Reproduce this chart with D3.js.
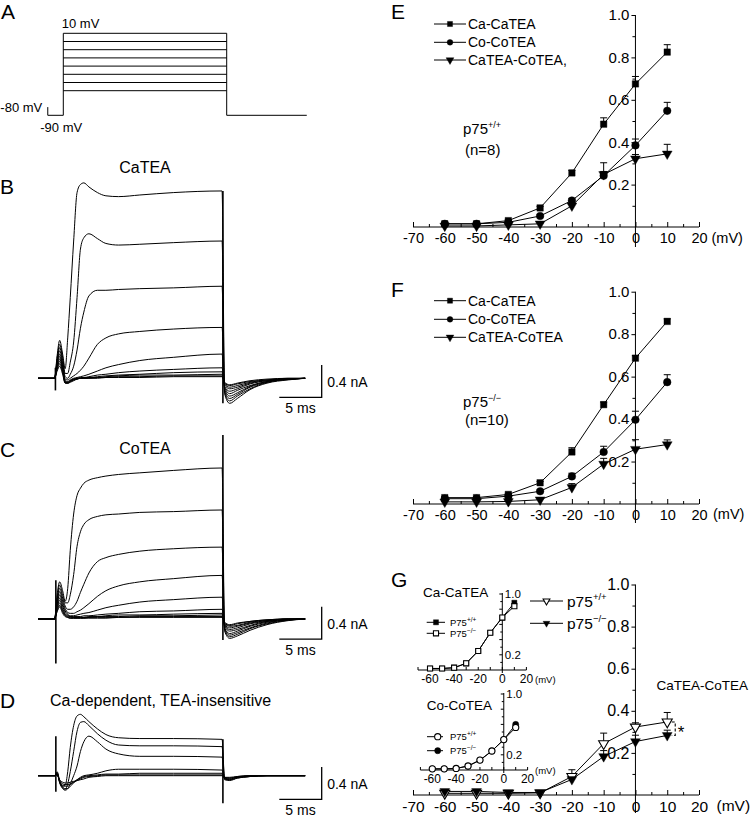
<!DOCTYPE html>
<html>
<head>
<meta charset="utf-8">
<script src="https://cdn.jsdelivr.net/npm/d3@7"></script>
<style>
  body { margin: 0; background: #fff; }
  svg { display: block; }
</style>
</head>
<body>
<svg id="fig" width="750" height="819"></svg>
<script>
// ---------- data ----------
// A: step protocol (mV, ms)
const stepLevels = [10, 0, -10, -20, -30, -40, -50, -60];
const holdingMv = -80;
const prepulseMv = -90;
const protocolTimes = [-1.9, 0, 20, 29.8]; // start, step on, step off, end

// B-D: current traces (nA) sampled at traceTimes (ms)
const traceTimes = [-2, -0.05, 0.25, 0.55, 0.9, 1.2, 1.5, 1.8, 2.2, 2.6, 3.0, 3.4, 4.0, 5.0, 6.0, 7.5, 10, 14, 19.7, 20.0, 20.6, 21.5, 23, 25, 27.5, 29.5];

const tracesCaTEA = [
  [0,0,0.28,0.47,0.3,0.12,0.5,1.0,1.7,2.3,2.4,2.42,2.37,2.3,2.26,2.25,2.27,2.3,2.32,-0.19,-0.31,-0.25,-0.14,-0.06,-0.02,0],
  [0,0,0.25,0.42,0.26,0.06,0.06,0.2,0.45,1.0,1.6,1.74,1.79,1.73,1.67,1.65,1.66,1.68,1.7,-0.17,-0.28,-0.22,-0.13,-0.05,-0.015,0],
  [0,0,0.22,0.38,0.22,0.02,0.0,0.05,0.15,0.35,0.62,0.82,1.02,1.09,1.09,1.1,1.11,1.12,1.14,-0.15,-0.25,-0.2,-0.11,-0.05,-0.01,0],
  [0,0,0.2,0.34,0.18,-0.01,-0.02,0.0,0.03,0.06,0.1,0.15,0.25,0.42,0.5,0.55,0.58,0.61,0.63,-0.13,-0.22,-0.18,-0.1,-0.04,-0.01,0],
  [0,0,0.18,0.3,0.15,-0.03,-0.04,-0.02,0.0,0.01,0.02,0.03,0.05,0.09,0.13,0.17,0.22,0.26,0.3,-0.11,-0.19,-0.15,-0.09,-0.04,-0.01,0],
  [0,0,0.16,0.27,0.13,-0.04,-0.05,-0.03,-0.01,0.0,0.01,0.01,0.02,0.04,0.05,0.07,0.09,0.11,0.13,-0.1,-0.16,-0.13,-0.07,-0.03,-0.01,0],
  [0,0,0.14,0.24,0.11,-0.05,-0.05,-0.03,-0.01,0.0,0.0,0.01,0.01,0.02,0.03,0.04,0.05,0.07,0.08,-0.08,-0.13,-0.11,-0.06,-0.03,-0.01,0],
  [0,0,0.12,0.21,0.09,-0.05,-0.06,-0.04,-0.02,-0.01,0.0,0.0,0.01,0.01,0.02,0.03,0.04,0.04,0.05,-0.07,-0.11,-0.09,-0.05,-0.02,-0.01,0],
  [0,0,0.11,0.18,0.07,-0.06,-0.06,-0.04,-0.02,-0.01,0,0,0,0.01,0.01,0.02,0.02,0.03,0.03,-0.06,-0.09,-0.07,-0.04,-0.02,0,0],
  [0,0,0.09,0.15,0.05,-0.06,-0.06,-0.05,-0.03,-0.01,0,0,0,0,0.01,0.01,0.01,0.02,0.02,-0.05,-0.08,-0.06,-0.03,-0.01,0,0]
];
const tracesCoTEA = [
  [0,0,0.3,0.46,0.35,0.22,0.38,0.85,1.3,1.53,1.62,1.68,1.72,1.75,1.77,1.79,1.81,1.84,1.87,-0.15,-0.24,-0.21,-0.14,-0.07,-0.02,0],
  [0,0,0.26,0.42,0.3,0.2,0.2,0.3,0.55,0.9,1.08,1.17,1.23,1.27,1.29,1.3,1.32,1.33,1.35,-0.13,-0.22,-0.19,-0.12,-0.06,-0.015,0],
  [0,0,0.23,0.38,0.26,0.16,0.12,0.12,0.15,0.22,0.33,0.43,0.57,0.71,0.76,0.8,0.84,0.87,0.89,-0.12,-0.2,-0.17,-0.11,-0.05,-0.01,0],
  [0,0,0.2,0.34,0.22,0.13,0.08,0.07,0.07,0.09,0.11,0.14,0.19,0.28,0.35,0.41,0.46,0.5,0.54,-0.11,-0.18,-0.15,-0.09,-0.04,-0.01,0],
  [0,0,0.18,0.3,0.19,0.1,0.06,0.04,0.04,0.05,0.06,0.07,0.08,0.11,0.14,0.17,0.21,0.24,0.27,-0.09,-0.15,-0.13,-0.08,-0.03,-0.01,0],
  [0,0,0.16,0.26,0.16,0.08,0.05,0.03,0.03,0.03,0.03,0.04,0.04,0.05,0.06,0.07,0.09,0.1,0.12,-0.08,-0.13,-0.11,-0.06,-0.03,0,0],
  [0,0,0.14,0.23,0.13,0.06,0.04,0.03,0.02,0.02,0.02,0.02,0.03,0.03,0.04,0.05,0.05,0.06,0.07,-0.07,-0.11,-0.09,-0.05,-0.02,0,0],
  [0,0,0.12,0.2,0.11,0.05,0.03,0.02,0.02,0.02,0.02,0.02,0.02,0.03,0.03,0.03,0.04,0.04,0.05,-0.06,-0.09,-0.08,-0.04,-0.02,0,0],
  [0,0,0.1,0.17,0.09,0.04,0.02,0.01,0.01,0.01,0.01,0.01,0.02,0.02,0.02,0.02,0.03,0.03,0.03,-0.05,-0.08,-0.06,-0.03,-0.01,0,0],
  [0,0,0.09,0.15,0.07,0.03,0.02,0.01,0.01,0.01,0.01,0.01,0.01,0.01,0.01,0.02,0.02,0.02,0.02,-0.04,-0.07,-0.05,-0.03,-0.01,0,0]
];
const tracesCaDep = [
  [0,0,0.05,-0.06,-0.13,-0.12,0.05,0.35,0.62,0.74,0.76,0.73,0.67,0.58,0.51,0.47,0.46,0.46,0.45,-0.05,-0.06,-0.03,-0.01,0,0,0],
  [0,0,0.04,-0.08,-0.15,-0.17,-0.1,0.05,0.3,0.55,0.66,0.67,0.62,0.52,0.44,0.38,0.37,0.37,0.36,-0.04,-0.05,-0.03,-0.01,0,0,0],
  [0,0,0.03,-0.09,-0.16,-0.18,-0.16,-0.1,0.0,0.12,0.3,0.42,0.49,0.42,0.33,0.27,0.24,0.24,0.23,-0.04,-0.05,-0.02,-0.01,0,0,0],
  [0,0,0.02,-0.08,-0.14,-0.16,-0.16,-0.13,-0.09,-0.05,-0.02,0.0,0.01,0.03,0.06,0.08,0.08,0.08,0.07,-0.03,-0.04,-0.02,-0.01,0,0,0],
  [0,0,0.02,-0.07,-0.12,-0.13,-0.13,-0.11,-0.08,-0.05,-0.03,-0.01,0,0.01,0.02,0.02,0.03,0.03,0.03,-0.03,-0.03,-0.02,0,0,0,0],
  [0,0,0.01,-0.06,-0.1,-0.11,-0.11,-0.1,-0.08,-0.06,-0.04,-0.02,-0.01,0,0.01,0.01,0.01,0.01,0.01,-0.02,-0.03,-0.01,0,0,0,0],
  [0,0,0.01,-0.05,-0.08,-0.09,-0.09,-0.08,-0.07,-0.06,-0.05,-0.04,-0.02,-0.01,0,0,0,0,0,-0.02,-0.02,-0.01,0,0,0,0]
];
// capacitive transients: [time ms, top nA, bottom nA]
const spikesCaTEA = [[0.05, 0.13, -0.15], [19.8, 2.32, -0.31]];
const spikesCoTEA = [[0.1, 0.48, -0.55], [19.8, 2.28, -0.26]];
const spikesCaDep = [[0.1, 0.49, -0.2], [19.8, 0.45, -0.34]];
const scaleBarMs = [26.45, 31.45];
const scaleBarNa = 0.4;

// E-G: I-V curves (normalised current)
const mV = [-60, -50, -40, -30, -20, -10, 0, 10];
const eCaCaTEA    = [0.015, 0.015, 0.03, 0.09, 0.255, 0.485, 0.675, 0.825];
const eCaCaTEAErr = [0.004, 0.004, 0.005, 0.007, 0.012, 0.03, 0.035, 0.035];
const eCoCoTEA    = [0.015, 0.015, 0.022, 0.052, 0.125, 0.242, 0.385, 0.548];
const eCoCoTEAErr = [0.004, 0.004, 0.004, 0.006, 0.01, 0.02, 0.03, 0.04];
const eDiff       = [0.005, 0.005, 0.01, 0.015, 0.1, 0.248, 0.322, 0.345];
const eDiffErr    = [0.003, 0.003, 0.003, 0.004, 0.012, 0.055, 0.02, 0.045];

const fCaCaTEA    = [0.03, 0.03, 0.045, 0.1, 0.245, 0.468, 0.687, 0.86];
const fCaCaTEAErr = [0.004, 0.004, 0.005, 0.006, 0.02, 0.012, 0.012, 0.012];
const fCoCoTEA    = [0.025, 0.025, 0.037, 0.06, 0.13, 0.245, 0.397, 0.574];
const fCoCoTEAErr = [0.004, 0.004, 0.004, 0.006, 0.015, 0.027, 0.04, 0.035];
const fDiff       = [0.01, 0.01, 0.012, 0.02, 0.078, 0.188, 0.258, 0.28];
const fDiffErr    = [0.003, 0.003, 0.003, 0.004, 0.018, 0.027, 0.045, 0.022];

const gDiffWT    = [0.008, 0.008, 0.008, 0.01, 0.088, 0.244, 0.323, 0.347];
const gDiffWTErr = [0.003, 0.003, 0.003, 0.003, 0.032, 0.05, 0.02, 0.045];
const gDiffKO    = [0.017, 0.017, 0.012, 0.012, 0.074, 0.183, 0.254, 0.283];
const gDiffKOErr = [0.003, 0.003, 0.003, 0.003, 0.015, 0.028, 0.03, 0.025];

const insetCaWT = [0.02, 0.02, 0.03, 0.088, 0.25, 0.49, 0.69, 0.885];
const insetCaKO = [0.02, 0.02, 0.03, 0.088, 0.25, 0.49, 0.69, 0.84];
const insetCoWT = [0.015, 0.015, 0.02, 0.053, 0.13, 0.25, 0.40, 0.56];
const insetCoKO = [0.015, 0.015, 0.02, 0.053, 0.13, 0.25, 0.40, 0.60];

const ivTicks = d3.range(-70, 21, 10);
const ivMinorTicks = d3.range(-65, 20, 10);
const ivYTicks = [0.2, 0.4, 0.6, 0.8, 1.0];
const ivYMinor = [0.1, 0.3, 0.5, 0.7, 0.9];
const insetXLabels = [-60, -40, -20, 0, 20];

// ---------- drawing ----------
const FONT = '"Liberation Sans", Arial, Helvetica, sans-serif';
const svg = d3.select('#fig');
svg.append('rect').attr('width', 750).attr('height', 819).attr('fill', '#fff');

function text(g, x, y, s, size, anchor) {
  return g.append('text')
    .attr('x', x).attr('y', y)
    .attr('font-family', FONT).attr('font-size', size)
    .attr('text-anchor', anchor || 'start')
    .attr('fill', '#000')
    .text(s);
}

function supText(g, x, y, base, sup, size, supSize, supDy) {
  const t = text(g, x, y, base, size);
  t.append('tspan').attr('font-size', supSize).attr('dy', supDy).text(sup);
  return t;
}

function symbolPath(sym, size) { return d3.symbol(sym, size)(); }

// panel letters
[['A', 1, 18.5], ['B', 0, 194], ['C', 0, 456.5], ['D', 0, 708], ['E', 391, 18.5], ['F', 391, 296.5], ['G', 391, 587]]
  .forEach(([s, x, y]) => text(svg, x, y, s, 21));

// ----- A: protocol -----
(function drawProtocol() {
  const g = svg.append('g');
  const x = d3.scaleLinear().domain([0, 20]).range([63.3, 226.7]);
  const y = d3.scaleLinear().domain([-60, 10]).range([90.7, 33.3]);
  const line = d3.line().x(d => x(d[0])).y(d => y(d[1]));
  const [t0, tOn, tOff, tEnd] = protocolTimes;
  const top = d3.max(stepLevels);

  g.append('path')
    .attr('d', line([[t0, holdingMv], [t0, prepulseMv], [tOn, prepulseMv], [tOn, top]]))
    .attr('fill', 'none').attr('stroke', '#000').attr('stroke-width', 1);
  g.selectAll('.lvl').data(stepLevels).join('path')
    .attr('d', v => line([[tOn, v], [tOff, v]]))
    .attr('fill', 'none').attr('stroke', '#000').attr('stroke-width', 1);
  g.append('path')
    .attr('d', line([[tOff, top], [tOff, prepulseMv], [tEnd, prepulseMv]]))
    .attr('fill', 'none').attr('stroke', '#000').attr('stroke-width', 1);

  text(g, x(tOn) - 1.5, y(top) - 5.5, '10 mV', 13);
  text(g, x(t0) - 5.5, y(holdingMv) + 5, '-80 mV', 13, 'end');
  text(g, x(t0) - 7.5, y(prepulseMv) + 16.5, '-90 mV', 13);
})();

// ----- B-D: current traces -----
function drawTraces(cfg) {
  const g = svg.append('g');
  const x = d3.scaleLinear().domain([0, 10]).range([55, 139.8]);
  const y = d3.scaleLinear().domain([0, scaleBarNa]).range([cfg.base, cfg.base - 32.3]);
  const line = d3.line()
    .x((d, i) => x(traceTimes[i]))
    .y(d => y(d))
    .curve(d3.curveMonotoneX);

  g.selectAll('.trace').data(cfg.traces.slice().reverse()).join('path')
    .attr('d', line)
    .attr('fill', 'none').attr('stroke', '#000').attr('stroke-width', 1);

  g.selectAll('.spike').data(cfg.spikes).join('line')
    .attr('x1', d => x(d[0])).attr('x2', d => x(d[0]))
    .attr('y1', d => y(d[1])).attr('y2', d => y(d[2]))
    .attr('stroke', '#000').attr('stroke-width', 1.6);

  // scale bar
  const bx0 = x(scaleBarMs[0]), bx1 = x(scaleBarMs[1]);
  const by0 = y(cfg.barLo), by1 = y(cfg.barLo + scaleBarNa);
  g.append('path')
    .attr('d', `M${bx0},${by0}H${bx1}V${by1}`)
    .attr('fill', 'none').attr('stroke', '#000').attr('stroke-width', 1.3);
  text(g, bx1 + 5.5, (by0 + by1) / 2 + 6, '0.4 nA', 14);
  text(g, (bx0 + bx1) / 2, by0 + 16, '5 ms', 14, 'middle');

  text(g, cfg.titleX, cfg.titleY, cfg.title, 16, cfg.titleAnchor);
}

drawTraces({ traces: tracesCaTEA, spikes: spikesCaTEA, base: 378.3, barLo: -0.235,
  title: 'CaTEA', titleX: 145, titleY: 173, titleAnchor: 'middle' });
drawTraces({ traces: tracesCoTEA, spikes: spikesCoTEA, base: 619, barLo: -0.248,
  title: 'CoTEA', titleX: 145, titleY: 454, titleAnchor: 'middle' });
drawTraces({ traces: tracesCaDep, spikes: spikesCaDep, base: 775.7, barLo: -0.292,
  title: 'Ca-dependent, TEA-insensitive', titleX: 50, titleY: 705.5, titleAnchor: 'start' });

// ----- E-G: I-V plots -----
function drawSeries(g, x, y, s) {
  const line = d3.line().x((d, i) => x(mV[i])).y(d => y(d));
  g.append('path').attr('d', line(s.v))
    .attr('fill', 'none').attr('stroke', '#000').attr('stroke-width', 1);
  if (s.e) {
    const eb = g.append('g').attr('stroke', '#000').attr('stroke-width', 1);
    s.v.forEach((v, i) => {
      const cx = x(mV[i]), yt = y(v + s.e[i]);
      eb.append('line').attr('x1', cx).attr('x2', cx).attr('y1', y(v)).attr('y2', yt);
      eb.append('line').attr('x1', cx - 3.5).attr('x2', cx + 3.5).attr('y1', yt).attr('y2', yt);
    });
  }
}

function drawMarkers(g, x, y, s) {
  g.selectAll(null).data(s.v).join('path')
    .attr('d', symbolPath(s.sym, s.size))
    .attr('transform', (d, i) => `translate(${x(mV[i])},${y(d)})${s.down ? ' rotate(180)' : ''}`)
    .attr('fill', s.filled ? '#000' : '#fff')
    .attr('stroke', '#000').attr('stroke-width', s.filled ? 0.4 : 1.1);
}

function legendRow(g, x0, x1, xm, yc, s, size) {
  g.append('line').attr('x1', x0).attr('x2', x1).attr('y1', yc).attr('y2', yc)
    .attr('stroke', '#000').attr('stroke-width', 1);
  g.append('path').attr('d', symbolPath(s.sym, size))
    .attr('transform', `translate(${xm},${yc})${s.down ? ' rotate(180)' : ''}`)
    .attr('fill', s.filled ? '#000' : '#fff')
    .attr('stroke', '#000').attr('stroke-width', s.filled ? 0.4 : 1.1);
}

function drawIV(cfg) {
  const g = svg.append('g');
  const x = d3.scaleLinear().domain([-70, 20]).range([413, 699]);
  const y = d3.scaleLinear().domain([0, 1]).range([cfg.base, cfg.top]);

  const xa = g.append('g').attr('transform', `translate(0,${cfg.base})`)
    .call(d3.axisBottom(x).tickValues(ivTicks).tickSize(-5).tickPadding(6).tickFormat(d => `${d}`));
  xa.append('g').call(d3.axisBottom(x).tickValues(ivMinorTicks).tickSize(-3).tickFormat(''));
  xa.selectAll('.domain').remove();
  xa.attr('font-family', FONT).attr('font-size', cfg.fs);
  xa.selectAll('text').attr('fill', '#000');
  xa.append('line').attr('x1', x(-70)).attr('x2', x(20)).attr('stroke', '#000');

  const ya = g.append('g').attr('transform', `translate(${x(0)},0)`)
    .call(d3.axisLeft(y).tickValues(ivYTicks).tickSize(4).tickPadding(2).tickFormat(d3.format('.1f')));
  ya.append('g').call(d3.axisLeft(y).tickValues(ivYMinor).tickSize(3).tickFormat(''));
  ya.selectAll('.domain').remove();
  ya.attr('font-family', FONT).attr('font-size', cfg.yfs);
  ya.selectAll('text').attr('fill', '#000');
  ya.append('line').attr('y1', y(1)).attr('y2', cfg.axisBottom).attr('stroke', '#000');

  text(g, cfg.mvX, cfg.base + cfg.mvDy, '(mV)', cfg.fs);

  cfg.series.forEach(s => drawSeries(g, x, y, s));
  cfg.series.forEach(s => drawMarkers(g, x, y, s));
  return { g, x, y };
}

const sqFilled = { sym: d3.symbolSquare, size: 42, filled: true };
const ciFilled = { sym: d3.symbolCircle, size: 46, filled: true };
const triFilled = { sym: d3.symbolTriangle, size: 42, filled: true, down: true };
const triOpen = { sym: d3.symbolTriangle, size: 44, filled: false, down: true };

function ivLegend(g, rows, labels, styles) {
  rows.forEach((yc, i) => {
    legendRow(g, 434, 466, 450, yc, styles[i], 26);
    text(g, 468, yc + 5, labels[i], 14);
  });
}

// E
(function () {
  const { g } = drawIV({ base: 227, top: 15, axisBottom: 247, fs: 14.5, yfs: 15, mvX: 711.5, mvDy: 15.5,
    series: [
      { ...sqFilled, v: eCaCaTEA, e: eCaCaTEAErr },
      { ...ciFilled, v: eCoCoTEA, e: eCoCoTEAErr },
      { ...triFilled, v: eDiff, e: eDiffErr }
    ] });
  ivLegend(g, [24, 42.3, 60], ['Ca-CaTEA', 'Co-CoTEA', 'CaTEA-CoTEA,'], [sqFilled, ciFilled, triFilled]);
  supText(g, 463, 134, 'p75', '+/+', 15, 9, -6);
  text(g, 465, 154.5, '(n=8)', 15);
})();

// F
(function () {
  const { g } = drawIV({ base: 504, top: 291.7, axisBottom: 523, fs: 14.5, yfs: 15, mvX: 713, mvDy: 14.5,
    series: [
      { ...sqFilled, v: fCaCaTEA, e: fCaCaTEAErr },
      { ...ciFilled, v: fCoCoTEA, e: fCoCoTEAErr },
      { ...triFilled, v: fDiff, e: fDiffErr }
    ] });
  ivLegend(g, [300.7, 319.3, 337.3], ['Ca-CaTEA', 'Co-CoTEA', 'CaTEA-CoTEA'], [sqFilled, ciFilled, triFilled]);
  supText(g, 463, 407, 'p75', '\u2212/\u2212', 15, 9, -6);
  text(g, 465, 424.5, '(n=10)', 15);
})();

// G
(function () {
  const { g, x, y } = drawIV({ base: 795, top: 584.5, axisBottom: 813, fs: 15.5, yfs: 16, mvX: 716.5, mvDy: 16,
    series: [
      { ...triOpen, v: gDiffWT, e: gDiffWTErr },
      { ...triFilled, v: gDiffKO, e: gDiffKOErr }
    ] });
  // legend
  [[601, triOpen, '+/+'], [623.3, triFilled, '\u2212/\u2212']].forEach(([yc, s, sup]) => {
    legendRow(g, 530, 563, 546.5, yc, s, 20);
    supText(g, 567, yc + 5.5, 'p75', sup, 15.5, 9.5, -6.5);
  });
  text(g, 656.5, 690, 'CaTEA-CoTEA', 13.5);
  // significance bracket at +10 mV
  const bx = x(10);
  const y1 = y(gDiffWT[gDiffWT.length - 1]), y2 = y(gDiffKO[gDiffKO.length - 1]);
  g.append('path').attr('d', `M${bx + 4.5},${y1}H${bx + 8}V${y2}H${bx + 4.5}`)
    .attr('fill', 'none').attr('stroke', '#000').attr('stroke-width', 1.1).attr('stroke-dasharray', '3,2');
  text(g, bx + 10.5, (y1 + y2) / 2 + 9, '*', 17);
})();

// ----- G insets -----
function drawInset(cfg) {
  const g = svg.append('g');
  const x = d3.scaleLinear().domain([-70, 20]).range(cfg.xr);
  const y = d3.scaleLinear().domain([0, 1]).range([cfg.base, cfg.top]);

  g.append('line').attr('x1', x(-70)).attr('x2', x(20)).attr('y1', cfg.base).attr('y2', cfg.base)
    .attr('stroke', '#000').attr('stroke-width', 1);
  g.selectAll('.xt').data(ivTicks).join('line')
    .attr('x1', d => x(d)).attr('x2', d => x(d)).attr('y1', cfg.base).attr('y2', cfg.base - 3)
    .attr('stroke', '#000').attr('stroke-width', 1);
  insetXLabels.forEach(v => text(g, x(v), cfg.base + 13, `${v}`, 12, 'middle'));
  text(g, cfg.mvX, cfg.mvY, '(mV)', 9.5);

  g.append('line').attr('x1', x(0)).attr('x2', x(0)).attr('y1', y(1) - 1).attr('y2', cfg.base + 3)
    .attr('stroke', '#000').attr('stroke-width', 1);
  g.selectAll('.yt').data(d3.range(0.1, 1.01, 0.1)).join('line')
    .attr('x1', x(0)).attr('x2', (d, i) => x(0) - (i % 2 ? 3 : 2))
    .attr('y1', d => y(d)).attr('y2', d => y(d))
    .attr('stroke', '#000').attr('stroke-width', 1);
  [1.0, 0.2].forEach(v => text(g, x(0) + 2.5, y(v) + 4, v.toFixed(1), 11.5));

  text(g, cfg.titleX, cfg.titleY, cfg.title, 13.5);

  cfg.series.forEach(s => drawSeries(g, x, y, s));
  cfg.series.forEach(s => drawMarkers(g, x, y, s));

  cfg.legend.forEach(([yc, s, sup]) => {
    legendRow(g, cfg.lx[0], cfg.lx[1], cfg.lx[2], yc, s, s.size);
    supText(g, 450, yc + 3.5, 'P75', sup, 9.5, 6.5, -4);
  });
}

const sqSmallFilled = { sym: d3.symbolSquare, size: 26, filled: true };
const sqSmallOpen = { sym: d3.symbolSquare, size: 26, filled: false };
const ciSmallOpen = { sym: d3.symbolCircle, size: 30, filled: false };
const ciSmallFilled = { sym: d3.symbolCircle, size: 30, filled: true };

drawInset({ xr: [418, 526.4], base: 670, top: 594, title: 'Ca-CaTEA', titleX: 423, titleY: 596.5,
  mvX: 535, mvY: 682.5, lx: [426.7, 445, 436],
  series: [{ ...sqSmallFilled, v: insetCaWT }, { ...sqSmallOpen, v: insetCaKO }],
  legend: [[622.3, sqSmallFilled, '+/+'], [633.3, sqSmallOpen, '\u2212/\u2212']] });

drawInset({ xr: [420.4, 527.6], base: 770, top: 694, title: 'Co-CoTEA', titleX: 426.7, titleY: 710,
  mvX: 535, mvY: 774, lx: [427, 443, 437.7],
  series: [{ ...ciSmallFilled, v: insetCoKO }, { ...ciSmallOpen, v: insetCoWT }],
  legend: [[736.7, ciSmallOpen, '+/+'], [750.7, ciSmallFilled, '\u2212/\u2212']] });
</script>
</body>
</html>
